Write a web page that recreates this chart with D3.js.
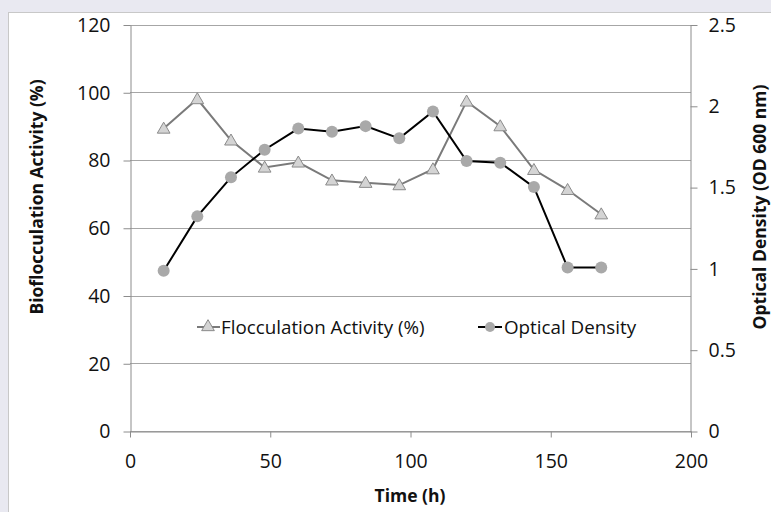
<!DOCTYPE html>
<html>
<head>
<meta charset="utf-8">
<script src="https://cdn.jsdelivr.net/npm/d3@7"></script>
<style>
body { margin: 0; background: #e9e9f1; }
svg { display: block; }
text { font-family: "Open Sans", sans-serif; fill: #111; }
</style>
</head>
<body>
<script>
// data
var hours = [12, 24, 36, 48, 60, 72, 84, 96, 108, 120, 132, 144, 156, 168];
var flocActivity = [89.3, 98.0, 85.8, 77.8, 79.3, 74.0, 73.3, 72.6, 77.3, 97.3, 90.0, 77.1, 71.2, 64.0];
var opticalDensity = [0.985, 1.32, 1.56, 1.73, 1.86, 1.84, 1.875, 1.80, 1.965, 1.66, 1.65, 1.50, 1.005, 1.005];
var leftTicks = [0, 20, 40, 60, 80, 100, 120];
var rightTicks = [0, 0.5, 1, 1.5, 2, 2.5];
var xTicks = [0, 50, 100, 150, 200];

var W = 771, H = 512;
var plot = {left: 130, right: 691, top: 24.5, bottom: 431};

var svg = d3.select("body").append("svg").attr("width", W).attr("height", H);

// chart frame
svg.append("rect").attr("x", 8.5).attr("y", 12.5).attr("width", W).attr("height", H)
    .attr("fill", "#fff").attr("stroke", "#c8c8c8");

var x = d3.scaleLinear().domain([0, 200]).range([plot.left, plot.right]);
var yL = d3.scaleLinear().domain([0, 120]).range([plot.bottom, plot.top]);
var yR = d3.scaleLinear().domain([0, 2.5]).range([plot.bottom, plot.top]);

// gridlines
svg.append("g").selectAll("line").data(leftTicks).enter().append("line")
    .attr("x1", plot.left).attr("x2", plot.right)
    .attr("y1", function(d) { return Math.round(yL(d)) + 0.5; })
    .attr("y2", function(d) { return Math.round(yL(d)) + 0.5; })
    .attr("stroke", "#a6a6a6").attr("stroke-width", 1);

// axes
var leftAxis = d3.axisLeft(yL).tickValues(leftTicks).tickSize(7).tickPadding(13);
var rightAxis = d3.axisRight(yR).tickValues(rightTicks).tickSize(7).tickPadding(11)
    .tickFormat(function(d) { return d; });
var bottomAxis = d3.axisBottom(x).tickValues(xTicks).tickSize(6).tickPadding(17);

function styleAxis(g) {
    g.select(".domain").attr("stroke", "#8c8c8c");
    g.selectAll(".tick line").attr("stroke", "#8c8c8c");
    g.selectAll(".tick text").style("font-size", "19.5px").attr("fill", "#111");
}

svg.append("g").attr("transform", "translate(" + (plot.left + 0.5) + ",0.5)")
    .call(leftAxis.tickSizeOuter(0)).call(styleAxis);
svg.append("g").attr("transform", "translate(" + (plot.right - 0.5) + ",0.5)")
    .call(rightAxis.tickSizeOuter(0)).call(styleAxis);
svg.append("g").attr("transform", "translate(0," + (plot.bottom + 0.5) + ")")
    .call(bottomAxis.tickSizeOuter(0)).call(styleAxis);

// axis titles
svg.append("text").attr("transform", "translate(43,197) rotate(-90)")
    .attr("text-anchor", "middle").style("font-size", "17.5px").style("font-weight", "bold")
    .text("Bioflocculation Activity (%)");
svg.append("text").attr("transform", "translate(766,207) rotate(-90)")
    .attr("text-anchor", "middle").style("font-size", "17.5px").style("font-weight", "bold")
    .text("Optical Density (OD 600 nm)");
svg.append("text").attr("x", 410).attr("y", 502)
    .attr("text-anchor", "middle").style("font-size", "17.5px").style("font-weight", "bold")
    .text("Time (h)");

var tri = d3.symbol().type(d3.symbolTriangle).size(70);

// flocculation series
var lineL = d3.line().x(function(d, i) { return x(hours[i]); }).y(function(d) { return yL(d); });
svg.append("path").datum(flocActivity).attr("d", lineL)
    .attr("fill", "none").attr("stroke", "#7a7a7a").attr("stroke-width", 2);
svg.append("g").selectAll("path").data(flocActivity).enter().append("path")
    .attr("d", tri)
    .attr("transform", function(d, i) { return "translate(" + x(hours[i]) + "," + (yL(d) + 1) + ")"; })
    .attr("fill", "#d4d4d4").attr("stroke", "#8a8a8a").attr("stroke-width", 1);

// optical density series
var lineR = d3.line().x(function(d, i) { return x(hours[i]); }).y(function(d) { return yR(d); });
svg.append("path").datum(opticalDensity).attr("d", lineR)
    .attr("fill", "none").attr("stroke", "#000").attr("stroke-width", 2);
svg.append("g").selectAll("circle").data(opticalDensity).enter().append("circle")
    .attr("cx", function(d, i) { return x(hours[i]); })
    .attr("cy", function(d) { return yR(d); })
    .attr("r", 6).attr("fill", "#a9a9a9");

// legend
var lg = svg.append("g");
lg.append("line").attr("x1", 197).attr("x2", 220).attr("y1", 327).attr("y2", 327)
    .attr("stroke", "#7a7a7a").attr("stroke-width", 2);
lg.append("path").attr("d", tri).attr("transform", "translate(208,327)")
    .attr("fill", "#d4d4d4").attr("stroke", "#8a8a8a");
lg.append("text").attr("x", 221).attr("y", 333.5).style("font-size", "18.8px")
    .text("Flocculation Activity (%)");
lg.append("line").attr("x1", 478).attr("x2", 502).attr("y1", 327).attr("y2", 327)
    .attr("stroke", "#000").attr("stroke-width", 2);
lg.append("circle").attr("cx", 490).attr("cy", 327).attr("r", 5).attr("fill", "#a9a9a9");
lg.append("text").attr("x", 504).attr("y", 333.5).style("font-size", "18.8px")
    .text("Optical Density");
</script>
</body>
</html>
